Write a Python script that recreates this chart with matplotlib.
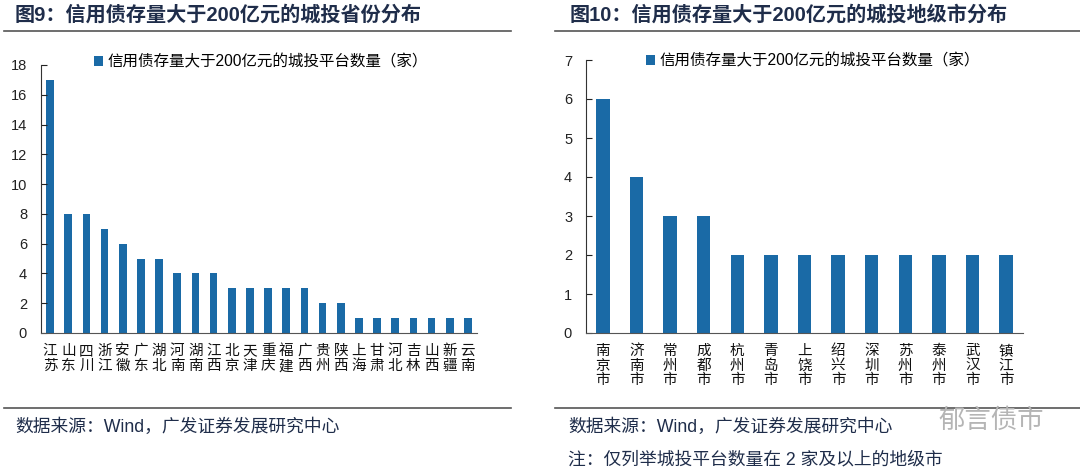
import matplotlib as mpl
import matplotlib.pyplot as plt
from matplotlib.lines import Line2D

mpl.use("Agg")

plt.rcParams["font.family"] = ["Liberation Sans", "Noto Sans CJK SC", "DejaVu Sans"]

# data
provinces = ["江苏", "山东", "四川", "浙江", "安徽", "广东", "湖北", "河南", "湖南", "江西",
             "北京", "天津", "重庆", "福建", "广西", "贵州", "陕西", "上海", "甘肃", "河北",
             "吉林", "山西", "新疆", "云南"]
province_counts = [17, 8, 8, 7, 6, 5, 5, 4, 4, 4, 3, 3, 3, 3, 3, 2, 2, 1, 1, 1, 1, 1, 1, 1]

cities = ["南京市", "济南市", "常州市", "成都市", "杭州市", "青岛市", "上饶市", "绍兴市",
          "深圳市", "苏州市", "泰州市", "武汉市", "镇江市"]
city_counts = [6, 4, 3, 3, 2, 2, 2, 2, 2, 2, 2, 2, 2]

series_name = "信用债存量大于200亿元的城投平台数量（家）"
title_left = "图9：信用债存量大于200亿元的城投省份分布"
title_right = "图10：信用债存量大于200亿元的城投地级市分布"
source = "数据来源：Wind，广发证券发展研究中心"
note = "注：仅列举城投平台数量在 2 家及以上的地级市"

BAR = "#1a6aa6"
NAVY = "#1f2d4a"
W, H = 1080, 472


def fx(px):
    return px / W


def fy(py):
    return 1 - py / H


def style_axes(ax, ymax, step):
    ax.set_ylim(0, ymax)
    ax.set_yticks(range(0, ymax + 1, step))
    for s in ("top", "right"):
        ax.spines[s].set_visible(False)
    ax.spines["left"].set_color("#333333")
    ax.spines["bottom"].set_color("#555555")
    ax.tick_params(axis="y", direction="in", length=4, labelsize=10.5, pad=10,
                   colors="#222222")
    ax.tick_params(axis="x", length=0, labelsize=10.5, pad=8, colors="#111111")


fig = plt.figure(figsize=(W / 100, H / 100), dpi=100)
fig.patch.set_facecolor("white")

# left panel
ax1 = fig.add_axes([fx(41), fy(333), fx(477 - 41), fy(65) - fy(333)])
x1 = range(len(provinces))
ax1.bar(x1, province_counts, width=0.42, color=BAR, label=series_name)
ax1.set_xlim(-0.5, len(provinces) - 0.5)
style_axes(ax1, 18, 2)
ax1.set_xticks(list(x1))
ax1.set_xticklabels(["\n".join(p) for p in provinces], linespacing=1.1)
ax1.legend(loc="center left", bbox_to_anchor=(fx(80), fy(62)),
           bbox_transform=fig.transFigure, frameon=False, fontsize=11.2,
           handlelength=0.6, handleheight=0.6, handletextpad=0.3)

# right panel
ax2 = fig.add_axes([fx(586), fy(333), fx(1023 - 586), fy(60) - fy(333)])
x2 = range(len(cities))
ax2.bar(x2, city_counts, width=0.40, color=BAR, label=series_name)
ax2.set_xlim(-0.5, len(cities) - 0.5)
style_axes(ax2, 7, 1)
ax2.set_xticks(list(x2))
ax2.set_xticklabels(["\n".join(c) for c in cities], linespacing=1.05)
ax2.legend(loc="center left", bbox_to_anchor=(fx(632), fy(61)),
           bbox_transform=fig.transFigure, frameon=False, fontsize=11.2,
           handlelength=0.6, handleheight=0.6, handletextpad=0.3)

# titles, rules and notes
fig.text(fx(15), fy(15), title_left, fontsize=14.5, fontweight="bold",
         color=NAVY, va="center")
fig.text(fx(570), fy(15), title_right, fontsize=14.5, fontweight="bold",
         color=NAVY, va="center")
for xa, xb in ((4, 511), (555, 1080)):
    fig.add_artist(Line2D([fx(xa), fx(xb)], [fy(31), fy(31)], color="#555555", lw=1.2))
    fig.add_artist(Line2D([fx(xa), fx(xb)], [fy(408), fy(408)], color="#555555", lw=1.2))

fig.text(fx(15), fy(427), source, fontsize=12.8, color=NAVY, va="center")
fig.text(fx(568), fy(427), source, fontsize=12.8, color=NAVY, va="center")
fig.text(fx(568), fy(460), note, fontsize=12.8, color=NAVY, va="center")
fig.text(fx(938), fy(420), "郁言债市", fontsize=19, color="#b5b5b5", va="center",
         family=["Noto Sans CJK SC"])

fig.savefig("out.png", dpi=100)
